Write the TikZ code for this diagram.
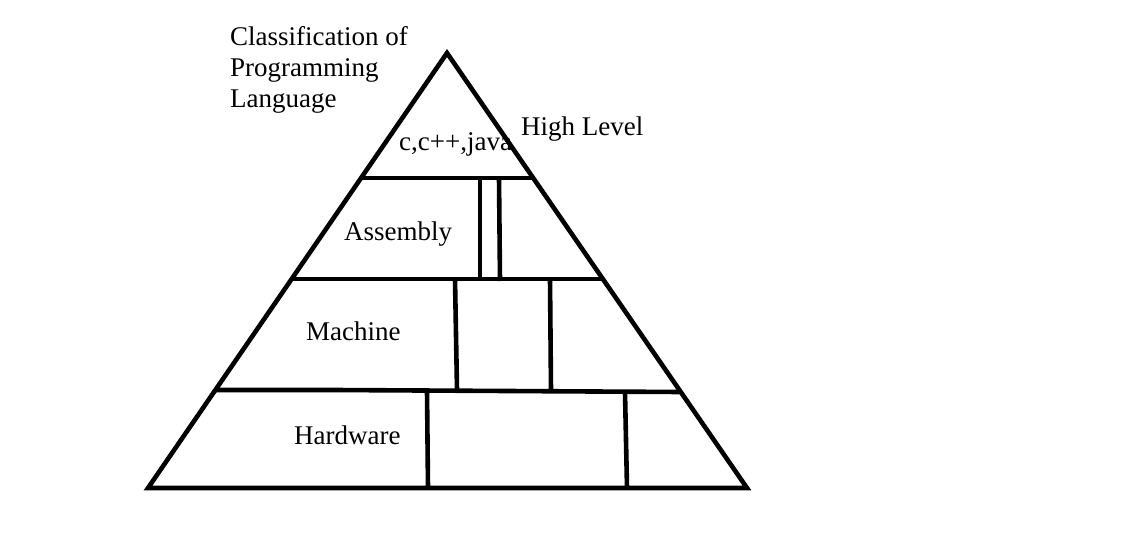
\documentclass[tikz,border=0pt]{standalone}
\usepackage{fontspec}
\setmainfont{Liberation Serif}
\begin{document}
\begin{tikzpicture}[x=1pt,y=-1pt,
  stroke/.style={line width=4.6pt,line join=miter,line cap=butt},
  lbl/.style={inner sep=0pt,anchor=base west,font=\fontsize{27}{31}\selectfont}]
\useasboundingbox[fill=white] (0,0) rectangle (1140,535);
% outer triangle
\coordinate (apex) at (447,53);
\coordinate (bl) at (148,488);
\coordinate (br) at (747,488);
\draw[stroke] (bl) -- (apex) -- (br) -- cycle;
% horizontal bands
\draw[stroke] (362,178) -- (532,178);
\draw[stroke] (293,279) -- (604,279);
\draw[stroke] (216,390) -- (335,390) -- (681,392);
% verticals in assembly band
\draw[stroke] (480,178) -- (480,279);
\draw[stroke] (499,178) -- (500,281);
% verticals in machine band
\draw[stroke] (455,279) -- (457,390);
\draw[stroke] (550,279) -- (551,391);
% verticals in hardware band
\draw[stroke] (427,391) -- (428,488);
\draw[stroke] (625,392) -- (627,488);
% labels
\node[lbl] (t1) at (230,46) {Classification of};
\node[lbl] (t2) at (230,77) {Programming};
\node[lbl] (t3) at (230,107) {Language};
\node[lbl] (hl) at (521,135) {High Level};
\node[lbl] (cj) at (399,150) {c,c++,java};
\node[lbl] (as) at (344,240) {Assembly};
\node[lbl] (ma) at (306,340) {Machine};
\node[lbl] (hw) at (294,444) {Hardware};
\end{tikzpicture}
\end{document}
